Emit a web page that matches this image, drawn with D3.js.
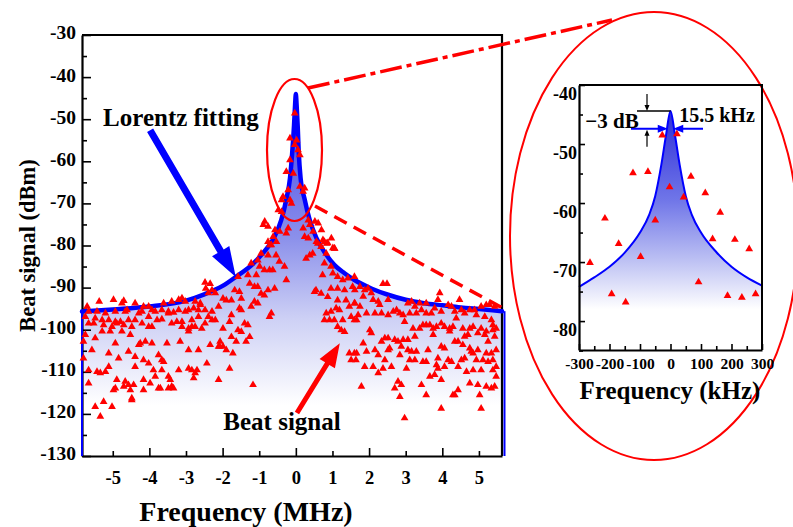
<!DOCTYPE html>
<html>
<head>
<meta charset="utf-8">
<script src="https://cdn.jsdelivr.net/npm/d3@7"></script>
<style>
  body { margin: 0; background: #fff; }
  text { font-family: 'Liberation Serif', 'Times New Roman', serif; font-weight: bold; fill: #000; }
</style>
</head>
<body>
<div id="chart"></div>
<script>
// tick values
var mainTicksX = [-5, -4, -3, -2, -1, 0, 1, 2, 3, 4, 5]
var mainTicksY = [-130, -120, -110, -100, -90, -80, -70, -60, -50, -40, -30]
var insetTicksX = [-300, -200, -100, 0, 100, 200, 300]
var insetTicksY = [-80, -70, -60, -50, -40]

// Lorentz fit, main panel (MHz, dBm)
var fitFreq = [-5.84, -5, -4, -3, -2.5, -2, -1.6, -1.2, -0.9, -0.6, -0.4, -0.26, -0.16, -0.1, -0.05, -0.02, 0,
  0.02, 0.05, 0.08, 0.13, 0.24, 0.38, 0.56, 0.8, 1.05, 1.33, 1.6, 2.06, 2.52, 3, 3.5, 4, 4.5, 5, 5.63]
var fitLevel = [-95.7, -95.2, -94.5, -93.1, -91.6, -89.6, -87.2, -84.6, -81.8, -78.2, -74, -69, -64, -58, -51.5, -46.5, -44,
  -46.5, -51.5, -58, -64, -69, -74, -78.2, -81.8, -84.6, -86.6, -88.2, -90.2, -91.7, -92.9, -93.7, -94.2, -94.7, -95.1, -95.6]

// beat signal samples [MHz, dBm]
var beatLeft = [
  [-5.37,-93.3],[-4.98,-92.9],[-4.70,-93.1],[-4.75,-93.7],[-4.39,-93.7],[-4.16,-94.5],[-4.02,-94.5],[-3.61,-93.7],[-3.39,-93.3],[-3.20,-92.9],[-3.11,-92.5],[-3.02,-93.3],[-2.75,-93.3],[-2.61,-93.7],[-2.48,-88.8],[-2.34,-89.1],[-2.46,-90.2],[-2.29,-90.6],[-2.20,-91.3],[-2.39,-91.3],[-2.61,-94.1],
  [-5.70,-94.5],[-5.66,-95.7],[-5.43,-95.7],[-5.20,-96.1],[-4.93,-95.7],[-4.66,-95.7],[-4.61,-95.3],[-4.29,-96.1],[-4.20,-95.7],[-3.93,-95.3],[-3.84,-95.7],[-3.66,-95.3],[-3.48,-95.7],[-3.34,-95.9],[-3.20,-95.3],[-3.02,-95.7],[-2.93,-95.3],[-2.79,-94.9],[-2.66,-95.3],[-2.48,-95.3],[-2.29,-95.7],[-2.11,-94.5],
  [-5.75,-96.9],[-5.48,-97.3],[-5.29,-97.7],[-5.11,-97.7],[-4.93,-98.1],[-4.79,-98.1],[-4.57,-97.7],[-4.39,-97.7],[-4.02,-96.9],[-3.79,-97.7],[-3.66,-97.5],[-3.48,-96.1],[-3.25,-98.1],[-3.11,-98.1],[-2.84,-97.7],[-2.66,-96.9],[-2.39,-96.9],[-2.48,-98.5],[-2.20,-97.7],
  [-5.66,-98.5],[-5.52,-98.5],[-5.25,-98.9],[-5.02,-99.3],[-4.89,-98.5],[-4.70,-98.9],[-4.48,-99.3],[-4.20,-98.5],[-4.02,-99.3],[-3.93,-99.3],[-3.39,-98.5],[-3.11,-99.3],[-2.93,-99.7],[-2.75,-99.3],[-2.57,-99.7],[-2.29,-97.7],
  [-5.75,-101.2],[-5.48,-102.0],[-5.29,-100.4],[-5.07,-100.4],[-4.75,-100.4],[-4.52,-101.2],[-4.25,-103.2],[-4.11,-102.8],[-3.93,-103.2],[-3.52,-103.2],[-3.16,-102.8],[-2.93,-100.4],[-2.84,-99.3],
  [-5.80,-102.8],[-5.57,-104.8],[-5.11,-105.6],[-4.93,-103.2],[-4.84,-106.8],[-4.57,-105.2],[-4.39,-106.4],[-4.29,-103.6],[-4.16,-107.2],[-4.02,-108.0],[-3.75,-106.0],[-3.66,-107.2],[-3.61,-107.6],[-2.93,-104.8],[-2.66,-104.8],[-2.34,-103.6],[-2.11,-104.0],[-2.07,-102.8],
  [-5.80,-106.8],[-5.66,-109.6],[-5.43,-110.0],[-5.20,-110.0],[-5.11,-108.8],[-4.89,-111.9],[-4.66,-112.3],[-4.57,-113.1],[-4.43,-113.1],[-4.39,-108.8],[-4.16,-111.9],[-3.84,-111.1],[-3.89,-109.6],[-3.66,-109.6],[-3.48,-111.1],[-3.43,-111.9],[-3.39,-113.5],[-3.70,-113.9],[-3.20,-109.6],[-2.93,-109.2],[-2.84,-109.6],[-2.75,-110.3],[-2.79,-111.5],[-2.70,-109.6],[-2.43,-108.0],[-2.11,-111.9],
  [-5.66,-112.7],[-5.34,-110.3],[-4.93,-113.9],[-4.98,-114.3],[-4.70,-113.5],[-4.52,-114.3],[-4.48,-116.7],[-4.16,-114.3],[-3.98,-112.7],[-3.75,-113.9],[-3.48,-113.9],[-3.34,-113.9],
  [-5.48,-118.3],[-5.34,-120.6],[-5.25,-117.1],[-5.02,-118.3],[-4.48,-116.3]
]
var beatCentre = [
  [-0.76,-79.1],[-0.67,-79.9],[-0.95,-81.9],[-0.76,-82.3],[-0.54,-82.3],[-0.45,-83.8],[-0.63,-85.8],[-0.72,-85.8],[-0.86,-85.8],[-0.99,-85.0],[-1.22,-84.2],[-1.04,-83.5],[-0.31,-85.0],[-0.26,-88.2],[-1.31,-87.0],[-1.08,-87.0],[-1.58,-87.4],
  [-1.67,-90.6],[-1.54,-91.0],[-1.26,-89.0],[-1.13,-89.8],[-1.04,-89.8],[-0.95,-91.4],[-0.76,-90.6],[-0.58,-90.2],[-0.86,-91.8],[-1.99,-92.6],[-1.90,-93.0],[-1.76,-93.0],[-1.49,-92.6],[-1.13,-93.3],[-1.04,-93.7],[-1.22,-94.5],[-1.54,-94.9],[-1.49,-95.3],
  [-0.67,-96.1],[-0.72,-96.9],[-1.76,-96.5],[-1.81,-98.1],[-1.58,-100.1],[-1.40,-98.5],[-1.31,-98.9],[-1.99,-99.7],[-1.49,-100.5],[-1.76,-101.7],[-1.63,-102.8],[-1.36,-102.8],[-1.26,-101.7],[-2.08,-104.0],[-1.99,-104.0],[-1.90,-104.8],[-1.72,-105.6],[-1.81,-109.2],[-1.17,-113.1],
  [0.28,-83.1],[0.46,-81.9],[0.60,-79.5],[0.78,-79.1],[0.69,-80.3],[1.05,-80.7],[0.83,-81.9],[0.78,-84.2],[0.96,-85.0],[0.73,-87.0],[1.01,-86.6],[1.14,-87.4],[1.28,-88.2],[1.42,-87.8],[1.60,-87.4],[1.55,-89.8],[1.33,-90.6],[1.14,-90.2],[0.96,-90.2],[0.55,-90.6],[0.51,-91.0],[0.69,-91.4],[0.87,-92.2],
  [1.14,-93.0],[1.37,-93.0],[1.60,-93.7],[1.46,-94.5],[1.19,-95.3],[1.10,-94.9],[0.96,-95.7],[1.05,-97.7],[0.83,-96.1],[0.78,-97.7],[0.92,-97.7],[1.28,-97.7],[1.51,-96.9],[1.60,-97.7],[1.14,-99.3],[1.24,-100.1],[1.33,-100.5],[1.46,-105.6],[1.60,-105.6],[1.51,-107.2],[1.64,-107.2],
  [-0.03,-48.6],[-0.16,-54.5],[0.02,-55.0],[-0.03,-56.1],[0.06,-57.3],[0.11,-58.5],[-0.16,-59.7],[-0.26,-62.5],[-0.07,-62.9],[-0.21,-66.8],[0.11,-66.0],[0.24,-66.4],[0.20,-67.2],[-0.35,-68.4],[-0.39,-69.2],[-0.16,-69.2],[-0.12,-70.0],[-0.48,-71.6],[-0.39,-72.0],
  [-0.85,-74.3],[-0.89,-75.1],[-0.76,-75.5],[-0.57,-76.3],[-0.44,-76.7],[-0.21,-75.9],[-0.26,-77.1],[-0.62,-77.9],[-0.53,-79.1],[-0.71,-79.9],[0.34,-74.0],[0.38,-75.1],[0.52,-74.3],[0.61,-74.7],[0.70,-76.3],[0.47,-76.7],[0.20,-75.9],[0.24,-77.9],[0.34,-78.3],[0.56,-79.1],[0.74,-78.7],[0.84,-79.5],[1.06,-80.7],[0.97,-78.3],[0.87,-79.4],[1.01,-80.6],[0.38,-82.3]
]
var beatRight = [
  [2.38,-89.1],[2.49,-89.1],[1.61,-90.6],[1.75,-89.8],[1.88,-90.6],[1.97,-90.2],[2.06,-91.3],[1.84,-92.1],[2.11,-92.9],[2.25,-93.3],[2.29,-94.1],[2.52,-92.9],[1.61,-93.7],[1.75,-94.5],[1.70,-96.5],[1.66,-97.7],[1.93,-96.1],[2.16,-96.1],[2.34,-96.1],[2.52,-96.5],[2.66,-95.7],[2.75,-95.3],[2.84,-96.1],[2.93,-96.5],
  [3.06,-93.7],[3.16,-93.3],[3.25,-94.5],[3.38,-93.7],[3.56,-93.7],[3.11,-96.1],[3.29,-96.1],[3.43,-95.3],[3.56,-96.1],[3.70,-96.1],[3.79,-94.9],[3.97,-95.7],[4.16,-94.1],[4.25,-94.5],[4.47,-92.9],[4.34,-95.7],[4.52,-95.3],[4.75,-95.3],[4.88,-95.3],[5.06,-94.5],[5.20,-94.1],[5.29,-94.1],[5.43,-94.5],[4.61,-96.1],[4.93,-96.5],[5.16,-96.9],[5.34,-97.7],[3.88,-92.9],[3.93,-91.3],
  [2.97,-98.1],[3.20,-99.7],[3.38,-99.7],[3.47,-98.9],[3.56,-98.9],[3.66,-98.9],[3.75,-99.7],[3.84,-99.3],[3.97,-98.5],[4.06,-99.3],[4.20,-99.7],[4.29,-99.3],[4.38,-97.3],[4.56,-99.7],[4.75,-99.7],[4.84,-99.3],[5.06,-99.7],[5.20,-100.4],[5.38,-98.9],[5.47,-99.7],
  [2.02,-100.1],[2.06,-100.8],[2.52,-102.0],[2.70,-102.4],[2.79,-102.8],[2.93,-102.4],[3.06,-102.4],[3.25,-101.6],[3.75,-101.2],[4.20,-100.4],[4.34,-102.8],[4.43,-102.8],[4.61,-101.6],[4.70,-101.2],[4.97,-100.8],[5.16,-101.2],[5.25,-102.8],[5.43,-101.6],[5.38,-100.1],
  [1.84,-103.2],[2.34,-102.8],[2.43,-102.0],[2.56,-104.4],[2.52,-104.8],[2.88,-104.0],[3.06,-104.8],[3.16,-105.2],[3.29,-105.2],[3.61,-104.8],[3.97,-104.0],[4.06,-104.4],[4.56,-103.6],[4.75,-104.4],[4.79,-105.2],[4.97,-104.8],[5.20,-105.6],[5.34,-105.6],[5.47,-104.8],
  [1.66,-105.6],[1.93,-105.2],[2.16,-104.8],[2.25,-106.0],[2.43,-107.2],[2.84,-106.0],[3.11,-107.2],[3.25,-107.2],[3.47,-107.6],[3.56,-107.6],[3.88,-106.8],[4.16,-107.2],[4.25,-107.6],[4.52,-107.2],[4.61,-106.8],[4.84,-105.6],[4.93,-107.2],[5.11,-107.2],[5.25,-107.6],[5.38,-107.2],
  [1.88,-108.8],[2.11,-108.8],[2.38,-109.2],[2.61,-108.8],[3.02,-109.2],[3.84,-108.4],[3.88,-109.2],[4.06,-108.8],[4.43,-108.8],[4.66,-110.0],[4.84,-109.6],[5.06,-109.6],[5.38,-109.6],[5.47,-108.8],
  [2.25,-110.3],[2.79,-112.3],[2.70,-113.9],[2.88,-113.1],[3.43,-113.1],[3.66,-111.1],[3.79,-110.7],[3.97,-111.9],[4.34,-115.5],[4.43,-114.3],[4.75,-112.7],[4.97,-113.1],[5.20,-113.5],[5.34,-113.9],[5.43,-113.5],[5.47,-111.1],
  [1.79,-113.5],[2.84,-115.9],[3.56,-115.5],[4.29,-115.5],[5.02,-115.5],[3.97,-118.7],[5.06,-118.7],[2.97,-121.0]
]

// inset: zoom around the peak (kHz, dBm)
var insetFreq = [-300, -250, -200, -150, -100, -70, -50, -30, -15, 0, 15, 30, 50, 70, 100, 150, 200, 250, 300]
var insetLevel = [-74.2, -72.6, -70.8, -68.4, -65.0, -62.0, -58.8, -53.5, -48.6, -44.4, -48.6, -53.5, -58.8, -62.0, -65.0, -68.3, -70.8, -72.6, -74.0]
var insetPoints = [
  [-27,-48.5],[21,-48.3],[-123,-54.9],[-74,-54.7],[67,-55.5],[-3,-57.3],[114,-58.3],[43,-59.0],[163,-61.6],[-215,-62.6],[-50,-62.9],
  [-170,-66.9],[138,-66.1],[211,-66.2],[258,-67.8],[-98,-69.1],[-264,-70.1],[-193,-75.4],[-147,-76.8],[92,-73.4],[187,-75.7],[234,-76.0],[279,-75.4]
]

var svg = d3.select('#chart').append('svg').attr('width', 793).attr('height', 527)

var xMain = d3.scaleLinear().domain([-5.84, 5.63]).range([82, 502])
var yMain = d3.scaleLinear().domain([-130, -30]).range([456, 35])
var xIn = d3.scaleLinear().domain([-300, 300]).range([579, 762])
var yIn = d3.scaleLinear().domain([-84.9, -40]).range([350, 85])

var defs = svg.append('defs')
function gradient(id, y1, y2, stops) {
  var g = defs.append('linearGradient').attr('id', id).attr('gradientUnits', 'userSpaceOnUse')
    .attr('x1', 0).attr('x2', 0).attr('y1', y1).attr('y2', y2)
  stops.forEach(s => g.append('stop').attr('offset', s[0]).attr('stop-color', s[1]))
}
gradient('fadeMain', yMain(-44), yMain(-130), [[0, '#3c3ce6'], [0.4, '#8c91eb'], [0.62, '#cdd0f5'], [0.86, '#ffffff']])
gradient('fadeIn', yIn(-44.4), yIn(-78), [[0, '#2d2dd8'], [0.45, '#7076e8'], [0.75, '#bcc0f3'], [1, '#ffffff']])

function arrowPath(x1, y1, x2, y2, shaft, headLen, headW) {
  var dx = x2 - x1, dy = y2 - y1, len = Math.hypot(dx, dy)
  var ux = dx / len, uy = dy / len, nx = -uy, ny = ux
  var bx = x2 - ux * headLen, by = y2 - uy * headLen
  var pts = [
    [x1 + nx * shaft / 2, y1 + ny * shaft / 2], [bx + nx * shaft / 2, by + ny * shaft / 2],
    [bx + nx * headW / 2, by + ny * headW / 2], [x2, y2],
    [bx - nx * headW / 2, by - ny * headW / 2], [bx - nx * shaft / 2, by - ny * shaft / 2],
    [x1 - nx * shaft / 2, y1 - ny * shaft / 2]
  ]
  return 'M' + pts.join('L') + 'Z'
}

var tri = d3.symbol().type(d3.symbolTriangle).size(26)

/* ---------- main panel ---------- */
var fit = fitFreq.map((f, i) => [f, fitLevel[i]])

svg.append('path')
  .datum(fit)
  .attr('d', d3.area().x(d => xMain(d[0])).y0(yMain(-130)).y1(d => yMain(d[1])).curve(d3.curveMonotoneX))
  .attr('fill', 'url(#fadeMain)')

// axes
var yAxisMain = svg.append('g')
  .attr('transform', `translate(${xMain.range()[0]},0)`)
  .call(d3.axisLeft(yMain).tickValues(mainTicksY).tickSize(-9).tickSizeOuter(0).tickPadding(6).tickFormat(d => d))
yAxisMain.append('g')
  .call(d3.axisLeft(yMain).tickValues(mainTicksY.slice(0, -1).map(v => v + 5)).tickSize(-5).tickSizeOuter(0).tickFormat(''))
  .select('.domain').remove()
yAxisMain.selectAll('text').attr('font-size', 19.5).attr('dy', '0.2em')

var xAxisMain = svg.append('g')
  .attr('transform', `translate(0,${yMain.range()[0]})`)
  .call(d3.axisBottom(xMain).tickValues(mainTicksX).tickSize(-5).tickSizeOuter(0).tickPadding(15).tickFormat(d => d))
xAxisMain.selectAll('.tick line').attr('y2', d => (d % 2 === 0 ? -8 : -5))
xAxisMain.selectAll('text').attr('font-size', 18.5)

svg.append('path')
  .attr('d', `M${xMain.range()[0]},${yMain.range()[1]}H${xMain.range()[1]}V${yMain.range()[0]}`)
  .attr('fill', 'none').attr('stroke', '#000').attr('stroke-width', 2.2)

// blue side edges of the fitted area
var edges = [[fit[0], 0], [fit[fit.length - 1], 2.5]]
svg.append('g')
  .selectAll('line')
  .data(edges)
  .enter()
  .append('line')
  .attr('x1', d => xMain(d[0][0]) + d[1]).attr('x2', d => xMain(d[0][0]) + d[1])
  .attr('y1', d => yMain(d[0][1])).attr('y2', yMain(-130))
  .attr('stroke', '#0000ff').attr('stroke-width', 2)

svg.append('path')
  .datum(fit)
  .attr('d', d3.line().x(d => xMain(d[0])).y(d => yMain(d[1])).curve(d3.curveMonotoneX))
  .attr('fill', 'none')
  .attr('stroke', '#0000ff')
  .attr('stroke-width', 4.5)
  .attr('stroke-linecap', 'round')

svg.append('g')
  .selectAll('path')
  .data(beatLeft.concat(beatCentre, beatRight))
  .enter()
  .append('path')
  .attr('d', tri)
  .attr('transform', d => `translate(${xMain(d[0])},${yMain(d[1])})`)
  .attr('fill', '#ff0000')

svg.append('text')
  .attr('transform', `translate(27,${(yMain.range()[0] + yMain.range()[1]) / 2}) rotate(-90)`)
  .attr('text-anchor', 'middle').attr('dy', '0.35em')
  .attr('font-size', 22.5)
  .text('Beat signal (dBm)')
svg.append('text')
  .attr('x', 246).attr('y', 521)
  .attr('text-anchor', 'middle')
  .attr('font-size', 28)
  .text('Frequency (MHz)')

// annotations
svg.append('text').attr('x', 181).attr('y', 126).attr('text-anchor', 'middle').attr('font-size', 25).text('Lorentz fitting')
svg.append('path')
  .attr('d', arrowPath(xMain(-3.98), yMain(-52.6), xMain(-1.64), yMain(-87.5), 7, 30, 20))
  .attr('fill', '#0000ff')
svg.append('text').attr('x', 282).attr('y', 430).attr('text-anchor', 'middle').attr('font-size', 25).text('Beat signal')
svg.append('path')
  .attr('d', arrowPath(xMain(0.03), yMain(-119.8), xMain(1.2), yMain(-103.2), 5, 24, 18))
  .attr('fill', '#ff0000')

svg.append('ellipse')
  .attr('cx', 294.5).attr('cy', 150).attr('rx', 27.5).attr('ry', 71)
  .attr('fill', 'none').attr('stroke', '#ff0000').attr('stroke-width', 2.2)
svg.append('line')
  .attr('x1', 308).attr('y1', 88).attr('x2', 612).attr('y2', 20)
  .attr('stroke', '#ff0000').attr('stroke-width', 3.5).attr('stroke-dasharray', '22,5,5,5')
svg.append('line')
  .attr('x1', 315).attr('y1', 206).attr('x2', 508).attr('y2', 311)
  .attr('stroke', '#ff0000').attr('stroke-width', 3.5).attr('stroke-dasharray', '14,8')
svg.append('ellipse')
  .attr('cx', 654).attr('cy', 236).attr('rx', 144).attr('ry', 224)
  .attr('fill', 'none').attr('stroke', '#ff0000').attr('stroke-width', 2)

/* ---------- inset ---------- */
var insetFit = insetFreq.map((f, i) => [f, insetLevel[i]])

svg.append('path')
  .datum(insetFit)
  .attr('d', d3.area().x(d => xIn(d[0])).y0(yIn.range()[0]).y1(d => yIn(d[1])).curve(d3.curveMonotoneX))
  .attr('fill', 'url(#fadeIn)')
svg.append('path')
  .datum(insetFit)
  .attr('d', d3.line().x(d => xIn(d[0])).y(d => yIn(d[1])).curve(d3.curveMonotoneX))
  .attr('fill', 'none').attr('stroke', '#0000ff').attr('stroke-width', 2)

svg.append('g')
  .selectAll('path')
  .data(insetPoints)
  .enter()
  .append('path')
  .attr('d', tri)
  .attr('transform', d => `translate(${xIn(d[0])},${yIn(d[1])})`)
  .attr('fill', '#ff0000')

var yAxisIn = svg.append('g')
  .attr('transform', `translate(${xIn.range()[0]},0)`)
  .call(d3.axisLeft(yIn).tickValues(insetTicksY).tickSize(-6).tickSizeOuter(0).tickPadding(2).tickFormat(d => d))
yAxisIn.append('g')
  .call(d3.axisLeft(yIn).tickValues(insetTicksY.map(v => v - 5)).tickSize(-4).tickSizeOuter(0).tickFormat(''))
  .select('.domain').remove()
yAxisIn.selectAll('text').attr('font-size', 18).attr('dy', '0.8em')

var xAxisIn = svg.append('g')
  .attr('transform', `translate(0,${yIn.range()[0]})`)
  .call(d3.axisBottom(xIn).tickValues(insetTicksX).tickSize(-6).tickSizeOuter(0).tickPadding(8).tickFormat(d => d))
xAxisIn.append('g')
  .call(d3.axisBottom(xIn).tickValues(insetTicksX.slice(0, -1).map(v => v + 50)).tickSize(-4).tickSizeOuter(0).tickFormat(''))
  .select('.domain').remove()
xAxisIn.selectAll('text').attr('font-size', 15.5)

svg.append('path')
  .attr('d', `M${xIn.range()[0]},${yIn.range()[1]}H${xIn.range()[1]}V${yIn.range()[0]}`)
  .attr('fill', 'none').attr('stroke', '#000').attr('stroke-width', 2)

svg.selectAll('.domain').attr('stroke-width', 2.2)
svg.selectAll('.tick line').attr('stroke-width', 1.6)

svg.append('text').attr('x', 670).attr('y', 399).attr('text-anchor', 'middle').attr('font-size', 25).text('Frequency (kHz)')

// -3 dB linewidth marker
var peakY = yIn(-44.4), halfY = yIn(-47.4)
svg.append('line').attr('x1', 637).attr('x2', xIn(0)).attr('y1', peakY).attr('y2', peakY)
  .attr('stroke', '#000').attr('stroke-width', 1.4)
svg.append('path').attr('d', arrowPath(647, peakY - 17, 647, peakY, 1.2, 6, 5)).attr('fill', '#000')
svg.append('path').attr('d', arrowPath(647, halfY + 18, 647, halfY + 1, 1.2, 6, 5)).attr('fill', '#000')
svg.append('path').attr('d', arrowPath(631, halfY, xIn(-9), halfY, 2, 10, 8)).attr('fill', '#0000ff')
svg.append('path').attr('d', arrowPath(703, halfY, xIn(9), halfY, 2, 10, 8)).attr('fill', '#0000ff')
svg.append('text').attr('x', 612).attr('y', 128).attr('text-anchor', 'middle').attr('font-size', 21).text('\u22123 dB')
svg.append('text').attr('x', 717).attr('y', 122).attr('text-anchor', 'middle').attr('font-size', 20).text('15.5 kHz')
</script>
</body>
</html>
